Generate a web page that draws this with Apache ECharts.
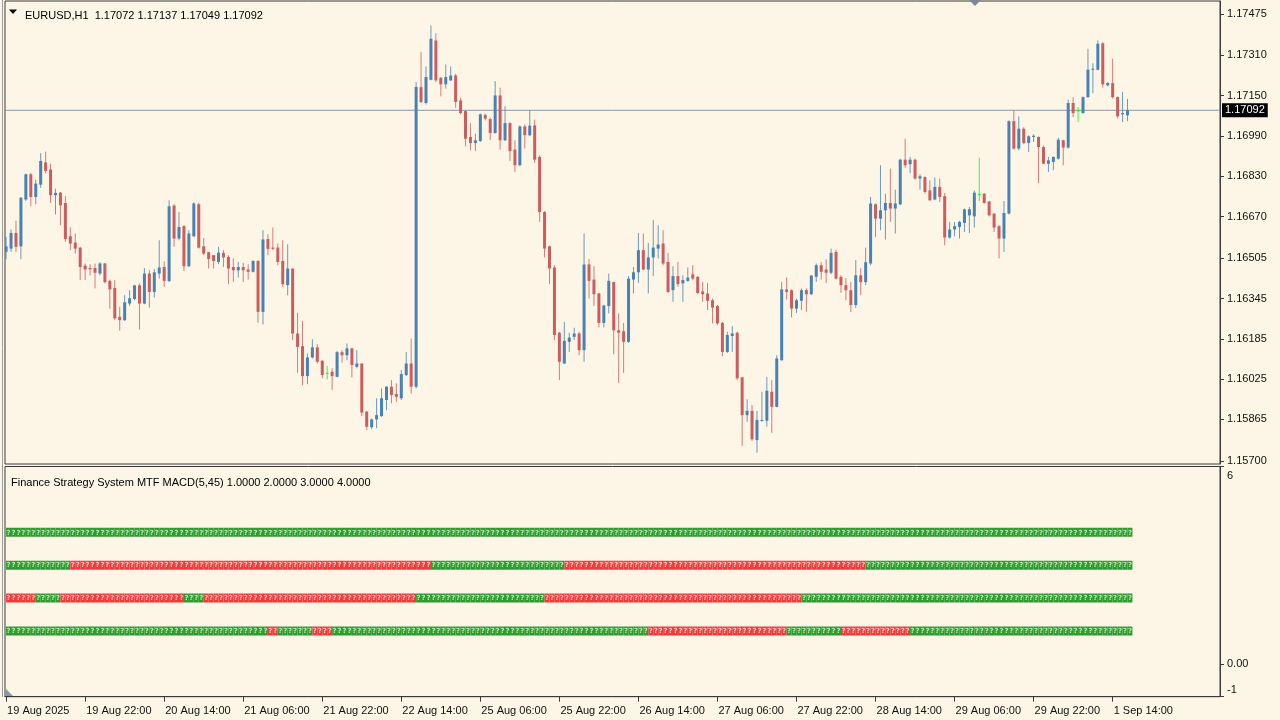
<!DOCTYPE html>
<html><head><meta charset="utf-8">
<script src="https://cdn.jsdelivr.net/npm/echarts@6/dist/echarts.min.js"></script>
<style>html,body{margin:0;padding:0;background:#fdf5e6;}#c{width:1280px;height:720px;}</style>
</head><body><div id="c"></div>
<script>
const symbolName = 'EURUSD,H1';
const open = [1.16530,1.16543,1.16605,1.16552,1.16738,1.16838,1.16748,1.16797,1.16885,1.16857,
1.16755,1.16765,1.16724,1.16592,1.16567,1.16547,1.16476,1.16466,1.16466,1.16444,
1.16484,1.16415,1.16387,1.16272,1.16259,1.16325,1.16343,1.16397,1.16325,1.16444,
1.16371,1.16444,1.16470,1.16414,1.16714,1.16583,1.16632,1.16473,1.16592,1.16719,
1.16552,1.16529,1.16517,1.16490,1.16526,1.16510,1.16470,1.16457,1.16470,1.16460,
1.16451,1.16494,1.16292,1.16581,1.16547,1.16547,1.16494,1.16398,1.16464,1.16206,
1.16156,1.16037,1.16111,1.16151,1.16098,1.16050,1.16054,1.16034,1.16132,1.16120,
1.16147,1.16074,1.16087,1.15896,1.15834,1.15865,1.15878,1.15942,1.15995,1.15966,
1.15949,1.16041,1.16087,1.15995,1.17184,1.17121,1.17213,1.17369,1.17221,1.17195,
1.17211,1.17230,1.17131,1.17089,1.16986,1.16962,1.16970,1.17073,1.17057,1.17002,
1.17151,1.16973,1.17041,1.16936,1.16874,1.17028,1.16993,1.17032,1.16907,1.16688,
1.16552,1.16468,1.16209,1.16087,1.16173,1.16193,1.16206,1.16140,1.16480,1.16420,
1.16365,1.16248,1.16315,1.16411,1.16219,1.16215,1.16173,1.16420,1.16449,1.16537,
1.16460,1.16508,1.16543,1.16563,1.16490,1.16378,1.16434,1.16405,1.16415,1.16441,
1.16431,1.16373,1.16365,1.16338,1.16315,1.16248,1.16133,1.16196,1.16209,1.16032,
1.15882,1.15899,1.15783,1.15859,1.15860,1.15975,1.15915,1.16100,1.16381,1.16378,
1.16305,1.16336,1.16378,1.16362,1.16431,1.16477,1.16460,1.16447,1.16530,1.16431,
1.16398,1.16378,1.16319,1.16437,1.16410,1.16484,1.16719,1.16662,1.16695,1.16724,
1.16702,1.16719,1.16896,1.16878,1.16896,1.16821,1.16827,1.16774,1.16738,1.16788,
1.16751,1.16587,1.16619,1.16629,1.16645,1.16675,1.16671,1.16759,1.16761,1.16730,
1.16682,1.16632,1.16583,1.16682,1.17049,1.16940,1.17019,1.16962,1.16986,1.16986,
1.16946,1.16880,1.16887,1.16900,1.16973,1.16944,1.17121,1.17092,1.17081,1.17144,
1.17253,1.17253,1.17358,1.17191,1.17200,1.17144,1.17076,1.17072];
const high = [1.16589,1.16619,1.16653,1.16748,1.16841,1.16843,1.16817,1.16922,1.16928,1.16880,
1.16781,1.16768,1.16751,1.16627,1.16603,1.16550,1.16484,1.16481,1.16484,1.16489,
1.16486,1.16420,1.16418,1.16312,1.16358,1.16378,1.16399,1.16405,1.16466,1.16457,
1.16462,1.16576,1.16492,1.16735,1.16719,1.16688,1.16636,1.16616,1.16727,1.16724,
1.16585,1.16530,1.16517,1.16550,1.16537,1.16517,1.16504,1.16490,1.16486,1.16481,
1.16497,1.16497,1.16616,1.16600,1.16627,1.16563,1.16576,1.16560,1.16464,1.16288,
1.16256,1.16127,1.16183,1.16164,1.16100,1.16077,1.16068,1.16137,1.16140,1.16167,
1.16149,1.16140,1.16087,1.15899,1.15869,1.15949,1.15988,1.15997,1.16021,1.16008,
1.16061,1.16133,1.16186,1.17204,1.17323,1.17266,1.17429,1.17398,1.17224,1.17274,
1.17266,1.17237,1.17142,1.17092,1.17041,1.16999,1.17079,1.17079,1.17063,1.17208,
1.17182,1.17108,1.17045,1.16973,1.17032,1.17036,1.17092,1.17055,1.16913,1.16692,
1.16555,1.16477,1.16213,1.16252,1.16209,1.16229,1.16213,1.16603,1.16502,1.16473,
1.16367,1.16320,1.16444,1.16411,1.16286,1.16248,1.16434,1.16470,1.16605,1.16603,
1.16566,1.16656,1.16636,1.16616,1.16526,1.16473,1.16490,1.16437,1.16468,1.16477,
1.16434,1.16411,1.16407,1.16345,1.16319,1.16252,1.16213,1.16235,1.16213,1.16034,
1.15945,1.15922,1.15899,1.15975,1.16034,1.16021,1.16120,1.16411,1.16428,1.16381,
1.16345,1.16385,1.16385,1.16437,1.16484,1.16490,1.16500,1.16543,1.16539,1.16437,
1.16426,1.16410,1.16497,1.16465,1.16547,1.16748,1.16722,1.16874,1.16761,1.16860,
1.16777,1.16900,1.16979,1.16907,1.16900,1.16838,1.16830,1.16814,1.16825,1.16821,
1.16764,1.16649,1.16649,1.16653,1.16702,1.16708,1.16774,1.16904,1.16764,1.16732,
1.16684,1.16636,1.16732,1.17052,1.17092,1.17068,1.17025,1.16993,1.16997,1.16989,
1.16952,1.16907,1.16909,1.16983,1.16975,1.17134,1.17144,1.17105,1.17147,1.17336,
1.17279,1.17369,1.17362,1.17204,1.17297,1.17147,1.17164,1.17137];
const low = [1.16501,1.16530,1.16530,1.16501,1.16732,1.16711,1.16719,1.16784,1.16841,1.16724,
1.16679,1.16636,1.16570,1.16537,1.16523,1.16418,1.16418,1.16437,1.16385,1.16437,
1.16405,1.16305,1.16259,1.16217,1.16256,1.16316,1.16338,1.16222,1.16322,1.16309,
1.16349,1.16424,1.16391,1.16411,1.16550,1.16576,1.16454,1.16470,1.16589,1.16543,
1.16517,1.16464,1.16464,1.16481,1.16470,1.16402,1.16411,1.16428,1.16411,1.16420,
1.16448,1.16248,1.16242,1.16517,1.16537,1.16477,1.16391,1.16358,1.16180,1.16050,
1.16001,1.16005,1.16107,1.16087,1.16028,1.16024,1.15982,1.16032,1.16090,1.16100,
1.16032,1.16068,1.15878,1.15823,1.15826,1.15830,1.15876,1.15902,1.15929,1.15935,
1.15942,1.16037,1.15968,1.15988,1.17121,1.17115,1.17211,1.17204,1.17147,1.17178,
1.17208,1.17102,1.17076,1.16949,1.16933,1.16930,1.16966,1.17052,1.16975,1.16999,
1.16936,1.16970,1.16891,1.16847,1.16870,1.16940,1.16989,1.16883,1.16649,1.16508,
1.16402,1.16180,1.16021,1.16085,1.16133,1.16180,1.16120,1.16094,1.16345,1.16315,
1.16230,1.16230,1.16286,1.16124,1.16010,1.16050,1.16169,1.16365,1.16407,1.16457,
1.16365,1.16434,1.16504,1.16477,1.16367,1.16332,1.16391,1.16332,1.16411,1.16418,
1.16362,1.16332,1.16299,1.16246,1.16239,1.16116,1.16129,1.16133,1.16021,1.15760,
1.15856,1.15780,1.15733,1.15856,1.15836,1.15812,1.15913,1.16098,1.16341,1.16270,
1.16288,1.16299,1.16292,1.16358,1.16411,1.16420,1.16407,1.16441,1.16420,1.16367,
1.16338,1.16291,1.16307,1.16358,1.16398,1.16477,1.16589,1.16616,1.16579,1.16649,
1.16603,1.16715,1.16864,1.16843,1.16817,1.16777,1.16761,1.16732,1.16735,1.16728,
1.16556,1.16583,1.16592,1.16583,1.16609,1.16605,1.16627,1.16732,1.16722,1.16671,
1.16609,1.16504,1.16530,1.16679,1.16936,1.16933,1.16957,1.16926,1.16966,1.16803,
1.16880,1.16847,1.16854,1.16896,1.16874,1.16940,1.17065,1.17045,1.17079,1.17142,
1.17160,1.17250,1.17182,1.17187,1.17138,1.17059,1.17045,1.17049];
const close = [1.16552,1.16605,1.16550,1.16745,1.16838,1.16748,1.16801,1.16891,1.16851,1.16755,
1.16764,1.16715,1.16581,1.16563,1.16543,1.16470,1.16460,1.16461,1.16447,1.16484,
1.16410,1.16381,1.16266,1.16259,1.16330,1.16346,1.16397,1.16325,1.16444,1.16371,
1.16449,1.16468,1.16415,1.16711,1.16583,1.16629,1.16473,1.16603,1.16722,1.16547,
1.16523,1.16502,1.16494,1.16527,1.16508,1.16464,1.16457,1.16470,1.16457,1.16451,
1.16494,1.16292,1.16579,1.16542,1.16542,1.16490,1.16402,1.16464,1.16206,1.16153,
1.16037,1.16111,1.16151,1.16094,1.16041,1.16050,1.16037,1.16132,1.16120,1.16147,
1.16081,1.16087,1.15892,1.15836,1.15865,1.15882,1.15949,1.15995,1.15962,1.15955,
1.16045,1.16087,1.15995,1.17184,1.17125,1.17224,1.17376,1.17211,1.17195,1.17224,
1.17230,1.17125,1.17081,1.16979,1.16962,1.16973,1.17076,1.17059,1.17002,1.17151,
1.16973,1.17041,1.16930,1.16874,1.17028,1.16993,1.17031,1.16896,1.16688,1.16543,
1.16464,1.16200,1.16094,1.16177,1.16190,1.16206,1.16140,1.16480,1.16415,1.16362,
1.16248,1.16317,1.16415,1.16219,1.16209,1.16173,1.16424,1.16449,1.16537,1.16460,
1.16508,1.16547,1.16559,1.16484,1.16371,1.16434,1.16402,1.16418,1.16428,1.16424,
1.16367,1.16362,1.16336,1.16309,1.16246,1.16133,1.16200,1.16206,1.16028,1.15882,
1.15899,1.15786,1.15863,1.15863,1.15979,1.15915,1.16107,1.16381,1.16371,1.16305,
1.16338,1.16378,1.16362,1.16436,1.16477,1.16451,1.16447,1.16526,1.16424,1.16398,
1.16378,1.16319,1.16437,1.16410,1.16489,1.16722,1.16662,1.16695,1.16724,1.16702,
1.16722,1.16896,1.16874,1.16896,1.16821,1.16830,1.16768,1.16735,1.16788,1.16748,
1.16587,1.16619,1.16632,1.16649,1.16699,1.16699,1.16765,1.16759,1.16724,1.16675,
1.16627,1.16583,1.16684,1.17049,1.16940,1.17019,1.16962,1.16989,1.16991,1.16946,
1.16880,1.16893,1.16907,1.16975,1.16944,1.17121,1.17081,1.17092,1.17144,1.17253,
1.17257,1.17356,1.17195,1.17200,1.17144,1.17068,1.17081,1.17092];

const priceTicks = [1.15700,1.15865,1.16025,1.16185,1.16345,1.16505,1.16670,1.16830,1.16990,1.17150,1.17310,1.17475];
const timeLabels = ['19 Aug 2025','19 Aug 22:00','20 Aug 14:00','21 Aug 06:00','21 Aug 22:00','22 Aug 14:00','25 Aug 06:00','25 Aug 22:00','26 Aug 14:00','27 Aug 06:00','27 Aug 22:00','28 Aug 14:00','29 Aug 06:00','29 Aug 22:00','1 Sep 14:00'];
const barsPerLabel = 16;

const indicatorName = 'Finance Strategy System MTF MACD(5,45)';
const levelValues = [1, 2, 3, 4];
const indicatorTicks = [6, 0, -1];
const indicatorTickLabels = ['6', '0.00', '-1'];
const UP = 1, DOWN = 0;
const level4Runs = [[0,227,UP]];
const level3Runs = [[0,12,UP],[13,85,DOWN],[86,112,UP],[113,173,DOWN],[174,227,UP]];
const level2Runs = [[0,5,DOWN],[6,10,UP],[11,35,DOWN],[36,36,UP],[37,39,UP],[40,82,DOWN],[83,108,UP],[109,160,DOWN],[161,227,UP]];
const level1Runs = [[0,52,UP],[53,54,DOWN],[55,61,UP],[62,65,DOWN],[66,129,UP],[130,157,DOWN],[158,168,UP],[169,182,DOWN],[183,227,UP]];

// ---- build ----
const FONT = '"Liberation Sans", Arial, sans-serif';
const BULL = '#4682B4', BEAR = '#CD5C5C', DOJI = '#00FF00';
const candles = open.map((o, i) => [i, o, high[i], low[i], close[i]]);
const last = candles.length - 1;
const runsByLevel = [[1, level1Runs], [2, level2Runs], [3, level3Runs], [4, level4Runs]];
const cells = [];
runsByLevel.forEach(([lvl, runs]) => runs.forEach(([s, e, st]) => { for (let i = s; i <= e; i++) cells.push([i, lvl, st]); }));

const xMin = -0.2227, xMax = 245.73;

function renderCandle(params, api) {
  const i = api.value(0), o = api.value(1), h = api.value(2), l = api.value(3), c = api.value(4);
  const pO = api.coord([i, o]), pC = api.coord([i, c]), pH = api.coord([i, h]), pL = api.coord([i, l]);
  const x = pO[0];
  const col = c > o ? BULL : (c < o ? BEAR : DOJI);
  const top = Math.min(pO[1], pC[1]), bot = Math.max(pO[1], pC[1]);
  return { type: 'group', children: [
    { type: 'line', shape: { x1: x, y1: pH[1], x2: x, y2: pL[1] }, style: { stroke: col, lineWidth: 1, opacity: 0.8 } },
    { type: 'rect', shape: { x: x - 1.5, y: top, width: 3, height: Math.max(bot - top, 1) }, style: { fill: col } }
  ]};
}
function renderCell(params, api) {
  const i = api.value(0), lvl = api.value(1), up = api.value(2);
  const p = api.coord([i, lvl]);
  const w = api.size([1, 0])[0];
  const h = 9;
  const fill = up ? '#2f9a2f' : '#f03a3a';
  const glyph = up ? '#b4ecb0' : '#ffc4c4';
  return { type: 'group', children: [
    { type: 'rect', shape: { x: p[0], y: p[1] - h / 2, width: w, height: h }, style: { fill: fill } },
    { type: 'text', style: { text: '?', x: p[0] + w / 2, y: p[1] + 0.5, align: 'center', verticalAlign: 'middle', fill: glyph, font: 'bold 7px "DejaVu Sans"' } }
  ]};
}

const titleText = symbolName + '  ' + [open[last], high[last], low[last], close[last]].map(v => v.toFixed(5)).join(' ');
const indTitle = indicatorName + ' ' + levelValues.map(v => v.toFixed(4)).join(' ');

const chart = echarts.init(document.getElementById('c'), null, { renderer: 'canvas' });
chart.setOption({
  animation: false,
  backgroundColor: '#fdf5e6',
  textStyle: { fontFamily: FONT },
  title: [
    { text: titleText, left: 20, top: 5, textStyle: { fontSize: 11, fontWeight: 'normal', color: '#000', fontFamily: FONT } },
    { text: indTitle, left: 6, top: 472, textStyle: { fontSize: 11, fontWeight: 'normal', color: '#000', fontFamily: FONT } }
  ],
  grid: [
    { left: 5, top: 1, width: 1215, height: 463, show: true, borderColor: '#3a3a3a', borderWidth: 1, backgroundColor: 'transparent' },
    { left: 5, top: 466.5, width: 1215, height: 230.2, show: true, borderColor: '#3a3a3a', borderWidth: 1, backgroundColor: 'transparent' }
  ],
  xAxis: [
    { type: 'value', gridIndex: 0, min: xMin, max: xMax, show: false },
    { type: 'value', gridIndex: 1, min: xMin, max: xMax, position: 'bottom',
      axisLine: { show: true, onZero: false, lineStyle: { color: '#3a3a3a' } },
      splitLine: { show: false },
      axisTick: { show: true, length: 5, lineStyle: { color: '#3a3a3a' }, customValues: timeLabels.map((t, k) => k * barsPerLabel) },
      axisLabel: { customValues: timeLabels.map((t, k) => k * barsPerLabel), formatter: v => timeLabels[Math.round(v / barsPerLabel)] || '',
        align: 'left', margin: 9, padding: [0, 0, 0, 1], fontSize: 11, color: '#111', fontFamily: FONT }
    }
  ],
  yAxis: [
    { type: 'value', gridIndex: 0, position: 'right', min: 1.156881, max: 1.175258,
      axisLine: { show: true, onZero: false, lineStyle: { color: '#3a3a3a' } },
      splitLine: { show: false },
      axisTick: { show: true, length: 4, lineStyle: { color: '#3a3a3a' }, customValues: priceTicks },
      axisLabel: { customValues: priceTicks, formatter: v => v.toFixed(5), margin: 7, fontSize: 11, color: '#111', fontFamily: FONT }
    },
    { type: 'value', gridIndex: 1, position: 'right', min: -1, max: 6,
      axisLine: { show: true, onZero: false, lineStyle: { color: '#3a3a3a' } },
      splitLine: { show: false },
      axisTick: { show: true, length: 4, lineStyle: { color: '#3a3a3a' }, customValues: indicatorTicks },
      axisLabel: { customValues: indicatorTicks, margin: 7, fontSize: 11, color: '#111', fontFamily: FONT,
        formatter: v => { const k = indicatorTicks.indexOf(v); const s = indicatorTickLabels[k] || ''; return k === 0 ? '{t|' + s + '}' : (k === indicatorTicks.length - 1 ? '{b|' + s + '}' : s); },
        rich: { t: { padding: [19, 0, 0, 0], fontSize: 11, color: '#111', fontFamily: FONT }, b: { padding: [0, 0, 13, 0], fontSize: 11, color: '#111', fontFamily: FONT } } }
    }
  ],
  series: [
    { type: 'line', name: 'bid', xAxisIndex: 0, yAxisIndex: 0, silent: true, z: 1,
      data: [[xMin, close[last]], [xMax, close[last]]], symbol: 'none',
      lineStyle: { color: '#8c98a4', width: 1, type: 'solid' },
      endLabel: { show: true, distance: 2, formatter: () => close[last].toFixed(5), backgroundColor: '#000', color: '#fff', padding: [2, 3, 1, 3], fontSize: 11, fontFamily: FONT } },
    { type: 'custom', name: 'price', xAxisIndex: 0, yAxisIndex: 0, z: 2, data: candles, encode: { x: 0, y: [1, 2, 3, 4] }, renderItem: renderCandle, clip: true },
    { type: 'custom', name: 'signals', xAxisIndex: 1, yAxisIndex: 1, data: cells, encode: { x: 0, y: 1 }, renderItem: renderCell, clip: true }
  ],
  graphic: [
    { type: 'polygon', shape: { points: [[9, 9.5], [17, 9.5], [13, 14]] }, style: { fill: '#000' } },
    { type: 'polygon', shape: { points: [[969, 0], [981, 0], [975, 6]] }, style: { fill: '#7d8a96' } },
    { type: 'polygon', shape: { points: [[6, 689], [6, 696], [13, 696]] }, style: { fill: '#8499ad' } },
    { type: 'line', shape: { x1: 2.5, y1: 0, x2: 2.5, y2: 697 }, style: { stroke: '#9a9a9a', lineWidth: 1 } }
  ]
});
</script>
</body></html>
